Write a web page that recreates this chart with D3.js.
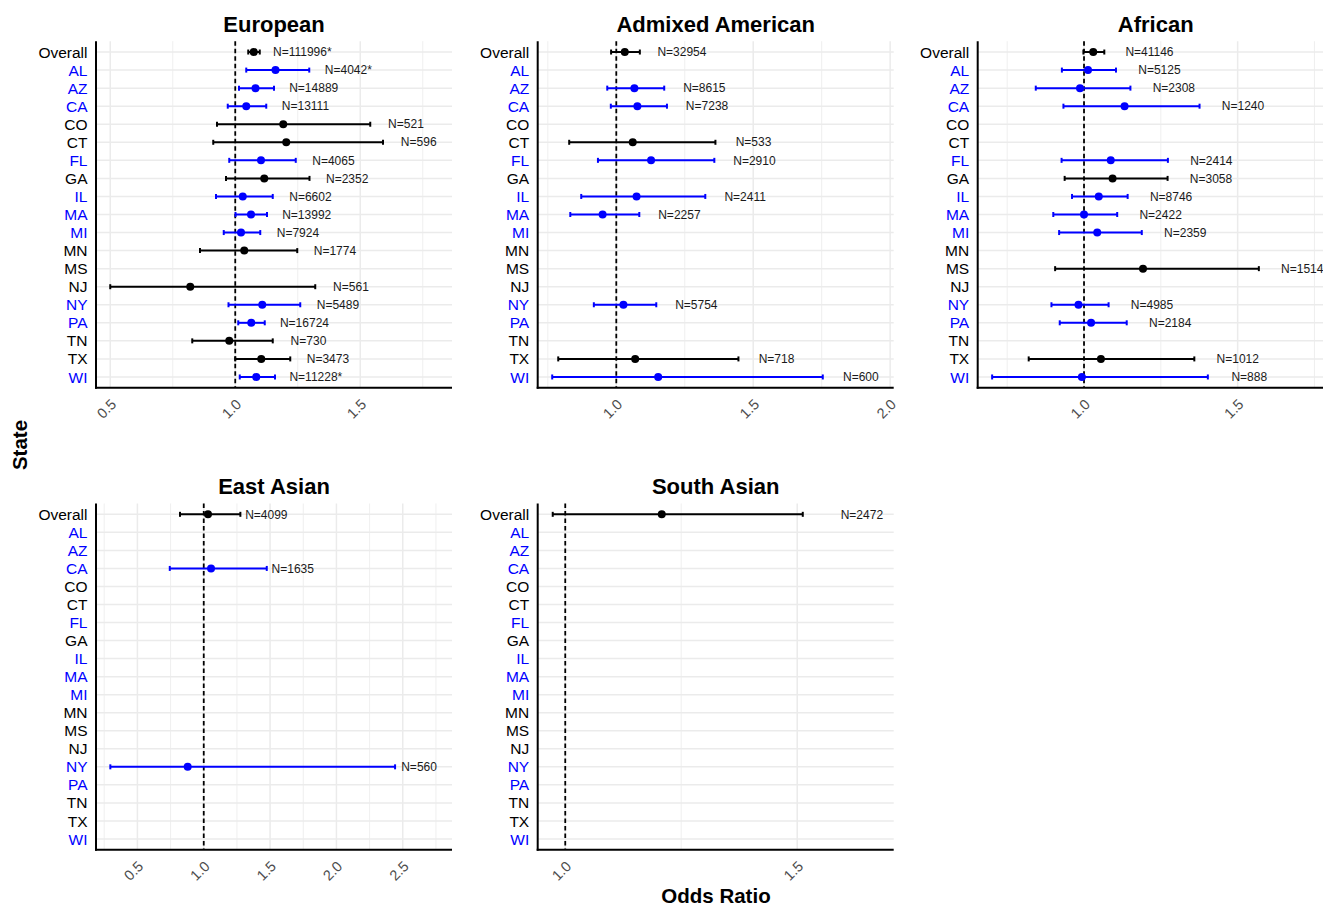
<!DOCTYPE html>
<html>
<head>
<meta charset="utf-8">
<script src="https://cdn.jsdelivr.net/npm/d3@7"></script>
<style>
  body { margin: 0; background: #ffffff; }
  svg { display: block; font-family: "Liberation Sans", Arial, Helvetica, sans-serif; }
</style>
</head>
<body>
<svg id="chart" width="1323" height="906"></svg>
<script>
// ---- Data -------------------------------------------------------------
const states = ["Overall", "AL", "AZ", "CA", "CO", "CT", "FL", "GA", "IL", "MA",
                "MI", "MN", "MS", "NJ", "NY", "PA", "TN", "TX", "WI"];
const highlightedStates = ["AL", "AZ", "CA", "FL", "IL", "MA", "MI", "NY", "PA", "WI"];

// European
const europeanOR    = [1.074, 1.161, 1.081, 1.044, 1.192, 1.204, 1.103, 1.116, 1.030, 1.063, 1.023, 1.036, null, 0.820, 1.108, 1.064, 0.976, 1.104, 1.084];
const europeanLower = [1.052, 1.044, 1.015, 0.970, 0.927, 0.912, 0.976, 0.963, 0.923, 1.001, 0.954, 0.859, null, 0.500, 0.973, 1.012, 0.828, 1.000, 1.018];
const europeanUpper = [1.098, 1.296, 1.155, 1.124, 1.540, 1.591, 1.242, 1.297, 1.150, 1.127, 1.100, 1.248, null, 1.320, 1.260, 1.118, 1.150, 1.220, 1.159];
const europeanN     = ["111996*", "4042*", "14889", "13111", "521", "596", "4065", "2352", "6602", "13992", "7924", "1774", null, "561", "5489", "16724", "730", "3473", "11228*"];

// Admixed American
const admixedOR    = [1.031, null, 1.066, 1.077, null, 1.060, 1.127, null, 1.074, 0.950, null, null, null, null, 1.026, null, null, 1.069, 1.153];
const admixedLower = [0.981, null, 0.967, 0.980, null, 0.828, 0.933, null, 0.872, 0.832, null, null, null, null, 0.918, null, null, 0.788, 0.766];
const admixedUpper = [1.086, null, 1.175, 1.185, null, 1.362, 1.358, null, 1.325, 1.084, null, null, null, null, 1.146, null, null, 1.446, 1.754];
const admixedN     = ["32954", null, "8615", "7238", null, "533", "2910", null, "2411", "2257", null, null, null, null, "5754", null, null, "718", "600"];

// African
const africanOR    = [1.030, 1.013, 0.987, 1.132, null, null, 1.087, 1.093, 1.048, 1.000, 1.043, null, 1.192, null, 0.982, 1.023, null, 1.055, 0.993];
const africanLower = [0.998, 0.928, 0.843, 0.933, null, null, 0.927, 0.937, 0.961, 0.900, 0.919, null, 0.906, null, 0.894, 0.921, null, 0.820, 0.701];
const africanUpper = [1.066, 1.104, 1.151, 1.376, null, null, 1.273, 1.272, 1.142, 1.108, 1.188, null, 1.569, null, 1.080, 1.139, null, 1.359, 1.403];
const africanN     = ["41146", "5125", "2308", "1240", null, null, "2414", "3058", "8746", "2422", "2359", null, "1514", null, "4985", "2184", null, "1012", "888"];

// East Asian
const eastAsianOR    = [1.032, null, null, 1.055, null, null, null, null, null, null, null, null, null, null, 0.879, null, null, null, null];
const eastAsianLower = [0.821, null, null, 0.744, null, null, null, null, null, null, null, null, null, null, 0.296, null, null, null, null];
const eastAsianUpper = [1.276, null, null, 1.475, null, null, null, null, null, null, null, null, null, null, 2.442, null, null, null, null];
const eastAsianN     = ["4099", null, null, "1635", null, null, null, null, null, null, null, null, null, null, "560", null, null, null, null];

// South Asian
const southAsianOR    = [1.208, null, null, null, null, null, null, null, null, null, null, null, null, null, null, null, null, null, null];
const southAsianLower = [0.973, null, null, null, null, null, null, null, null, null, null, null, null, null, null, null, null, null, null];
const southAsianUpper = [1.512, null, null, null, null, null, null, null, null, null, null, null, null, null, null, null, null, null, null];
const southAsianN     = ["2472", null, null, null, null, null, null, null, null, null, null, null, null, null, null, null, null, null, null];

// Axis breaks per panel
const europeanTicks   = [0.5, 1.0, 1.5];
const admixedTicks    = [1.0, 1.5, 2.0];
const africanTicks    = [1.0, 1.5];
const eastAsianTicks  = [0.5, 1.0, 1.5, 2.0, 2.5];
const southAsianTicks = [1.0, 1.5];

// ---- Layout -----------------------------------------------------------
const panelW = 356;
const BLUE = "#0000ff";
const GRID = "#ebebeb";

const panels = [
  { title: "European", or: europeanOR, lo: europeanLower, hi: europeanUpper, n: europeanN,
    left: 96, top: 41.2, bottom: 387.8, domain: [0.443, 1.867], ticks: europeanTicks },
  { title: "Admixed American", or: admixedOR, lo: admixedLower, hi: admixedUpper, n: admixedN,
    left: 537.7, top: 41.2, bottom: 387.8, domain: [0.713, 2.013], ticks: admixedTicks },
  { title: "African", or: africanOR, lo: africanLower, hi: africanUpper, n: africanN,
    left: 977.7, top: 41.2, bottom: 387.8, domain: [0.654, 1.8126], ticks: africanTicks },
  { title: "East Asian", or: eastAsianOR, lo: eastAsianLower, hi: eastAsianUpper, n: eastAsianN,
    left: 96, top: 503.5, bottom: 849.8, domain: [0.188, 2.871], ticks: eastAsianTicks },
  { title: "South Asian", or: southAsianOR, lo: southAsianLower, hi: southAsianUpper, n: southAsianN,
    left: 537.7, top: 503.5, bottom: 849.8, domain: [0.9406, 1.708], ticks: southAsianTicks }
];

const svg = d3.select("#chart");
const stateColor = s => highlightedStates.includes(s) ? BLUE : "#000000";

panels.forEach(p => {
  const x = d3.scaleLinear().domain(p.domain).range([p.left, p.left + panelW]);
  const y = d3.scalePoint().domain(states).range([p.top, p.bottom]).padding(0.6);
  const g = svg.append("g");

  // minor breaks halfway between the major ones
  const step = p.ticks.length > 1 ? p.ticks[1] - p.ticks[0] : 0.5;
  const minor = [];
  for (let v = p.ticks[0] - step / 2; v <= p.domain[1]; v += step) {
    if (v >= p.domain[0]) minor.push(+v.toFixed(3));
  }

  // grid
  g.append("g").selectAll("line").data(minor).join("line")
    .attr("x1", d => x(d)).attr("x2", d => x(d))
    .attr("y1", p.top).attr("y2", p.bottom)
    .attr("stroke", GRID).attr("stroke-width", 0.8);
  g.append("g").selectAll("line").data(p.ticks).join("line")
    .attr("x1", d => x(d)).attr("x2", d => x(d))
    .attr("y1", p.top).attr("y2", p.bottom)
    .attr("stroke", GRID).attr("stroke-width", 1.5);
  g.append("g").selectAll("line").data(states).join("line")
    .attr("x1", p.left).attr("x2", p.left + panelW)
    .attr("y1", d => y(d)).attr("y2", d => y(d))
    .attr("stroke", GRID).attr("stroke-width", 1.5);

  // reference line at OR = 1
  g.append("line")
    .attr("x1", x(1)).attr("x2", x(1))
    .attr("y1", p.top).attr("y2", p.bottom)
    .attr("stroke", "#000").attr("stroke-width", 1.8)
    .attr("stroke-dasharray", "4.5,3");

  const rows = states.map((s, i) => ({ s, or: p.or[i], lo: p.lo[i], hi: p.hi[i], n: p.n[i] }))
    .filter(d => d.or !== null);

  // confidence intervals
  const bars = g.append("g").selectAll("g").data(rows).join("g")
    .attr("stroke", d => stateColor(d.s)).attr("stroke-width", 2);
  bars.append("line")
    .attr("x1", d => x(d.lo)).attr("x2", d => x(d.hi))
    .attr("y1", d => y(d.s)).attr("y2", d => y(d.s));
  bars.append("line")
    .attr("x1", d => x(d.lo)).attr("x2", d => x(d.lo))
    .attr("y1", d => y(d.s) - 2.5).attr("y2", d => y(d.s) + 2.5);
  bars.append("line")
    .attr("x1", d => x(d.hi)).attr("x2", d => x(d.hi))
    .attr("y1", d => y(d.s) - 2.5).attr("y2", d => y(d.s) + 2.5);

  // point estimates
  g.append("g").selectAll("circle").data(rows).join("circle")
    .attr("cx", d => x(d.or)).attr("cy", d => y(d.s)).attr("r", 4)
    .attr("fill", d => stateColor(d.s));

  // sample size labels
  g.append("g").selectAll("text").data(rows).join("text")
    .attr("y", d => y(d.s)).attr("dy", "0.35em")
    .attr("font-size", 12).attr("fill", "#1a1a1a")
    .text(d => "N=" + d.n)
    .attr("x", function(d) { return x(d.hi + 0.1) - 0.2 * this.getComputedTextLength(); });

  // axis lines
  g.append("line").attr("x1", p.left).attr("x2", p.left)
    .attr("y1", p.top).attr("y2", p.bottom + 1)
    .attr("stroke", "#000").attr("stroke-width", 2);
  g.append("line").attr("x1", p.left - 1).attr("x2", p.left + panelW)
    .attr("y1", p.bottom).attr("y2", p.bottom)
    .attr("stroke", "#000").attr("stroke-width", 2);

  // state labels
  g.append("g").selectAll("text").data(states).join("text")
    .attr("x", p.left - 8.5).attr("y", d => y(d)).attr("dy", "0.36em")
    .attr("text-anchor", "end").attr("font-size", 15.5)
    .attr("fill", d => stateColor(d))
    .text(d => d);

  // rotated tick labels
  g.append("g").selectAll("text").data(p.ticks).join("text")
    .attr("transform", d => `translate(${x(d) - 0.5},${p.bottom + 10}) rotate(-45)`)
    .attr("text-anchor", "end").attr("dy", "0.72em")
    .attr("font-size", 14.5).attr("fill", "#4d4d4d")
    .text(d => d3.format(".1f")(d));

  // panel title
  g.append("text")
    .attr("x", p.left + panelW / 2).attr("y", p.top - 9.5)
    .attr("text-anchor", "middle").attr("font-size", 22).attr("font-weight", "bold")
    .attr("fill", "#000")
    .text(p.title);
});

// shared axis titles
svg.append("text")
  .attr("transform", "translate(27,445) rotate(-90)")
  .attr("text-anchor", "middle").attr("font-size", 20.5).attr("font-weight", "bold")
  .text("State");
svg.append("text")
  .attr("x", 716).attr("y", 903)
  .attr("text-anchor", "middle").attr("font-size", 20.5).attr("font-weight", "bold")
  .text("Odds Ratio");
</script>
</body>
</html>
